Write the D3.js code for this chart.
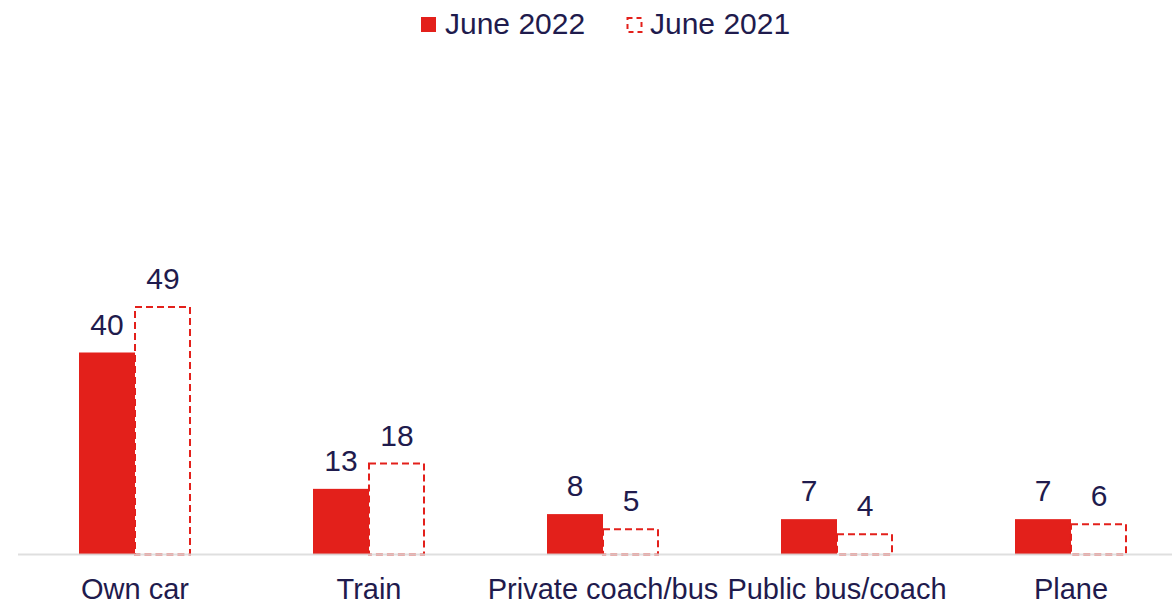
<!DOCTYPE html>
<html>
<head>
<meta charset="utf-8">
<script src="https://cdn.jsdelivr.net/npm/d3@7"></script>
<style>
  html, body { margin: 0; padding: 0; background: #fff; }
  svg { display: block; font-family: "Liberation Sans", Arial, sans-serif; }
</style>
</head>
<body>
<svg id="chart" width="1172" height="603"></svg>
<script>
// Mode of transport used, share of respondents (%)
const categories = ["Own car", "Train", "Private coach/bus", "Public bus/coach", "Plane"];
const seriesNames = ["June 2022", "June 2021"];
const june2022 = [40, 13, 8, 7, 7];
const june2021 = [49, 18, 5, 4, 6];

const W = 1172, H = 603;
const baseY = 554.5;
const red = "#e3201b";
const ink = "#1f1b4d";
const fontSize = 29;
const valueFontSize = 30;

const svg = d3.select("#chart");

const pad = 0.5214;
const x = d3.scaleBand()
  .domain(categories)
  .range([18, 1188])
  .paddingInner(pad)
  .paddingOuter(pad / 2);

const xSub = d3.scaleBand()
  .domain(seriesNames)
  .range([0, x.bandwidth()]);

const y = d3.scaleLinear()
  .domain([0, 60])
  .range([baseY, baseY - 303]);

const groups = svg.append("g")
  .selectAll("g")
  .data(categories)
  .join("g")
  .attr("transform", d => `translate(${x(d)},0)`);

// Solid bars: June 2022
groups.append("rect")
  .attr("x", xSub("June 2022"))
  .attr("width", xSub.bandwidth())
  .attr("y", (d, i) => y(june2022[i]))
  .attr("height", (d, i) => baseY - y(june2022[i]))
  .attr("fill", red);

// Dashed outline bars: June 2021
groups.append("rect")
  .attr("x", xSub("June 2021"))
  .attr("width", xSub.bandwidth() - 1)
  .attr("y", (d, i) => y(june2021[i]))
  .attr("height", (d, i) => baseY - y(june2021[i]))
  .attr("fill", "none")
  .attr("stroke", red)
  .attr("stroke-width", 2)
  .attr("stroke-dasharray", "7,4");

// Baseline
svg.append("line")
  .attr("x1", 18).attr("x2", W)
  .attr("y1", baseY).attr("y2", baseY)
  .attr("stroke", "#d9d9d9")
  .attr("stroke-opacity", 0.85)
  .attr("stroke-width", 2);

// Value labels
groups.append("text")
  .attr("x", xSub("June 2022") + xSub.bandwidth() / 2)
  .attr("y", (d, i) => y(june2022[i]) - 18)
  .attr("text-anchor", "middle")
  .attr("font-size", valueFontSize)
  .attr("fill", ink)
  .text((d, i) => june2022[i]);

groups.append("text")
  .attr("x", xSub("June 2021") + xSub.bandwidth() / 2)
  .attr("y", (d, i) => y(june2021[i]) - 18)
  .attr("text-anchor", "middle")
  .attr("font-size", valueFontSize)
  .attr("fill", ink)
  .text((d, i) => june2021[i]);

// Category axis
const xAxis = svg.append("g")
  .attr("transform", `translate(0,${baseY})`)
  .call(d3.axisBottom(x).tickSize(0).tickPadding(0));
xAxis.select(".domain").remove();
xAxis.selectAll("text")
  .attr("y", 44)
  .attr("dy", null)
  .attr("font-size", fontSize)
  .attr("font-family", "Liberation Sans, Arial, sans-serif")
  .attr("fill", ink);

// Legend
const legend = svg.append("g");
const items = [
  { name: seriesNames[0], x: 421, textX: 445, dashed: false },
  { name: seriesNames[1], x: 627, textX: 650, dashed: true }
];
items.forEach(it => {
  if (it.dashed) {
    legend.append("rect")
      .attr("x", it.x + 0.5).attr("y", 18)
      .attr("width", 14).attr("height", 14)
      .attr("fill", "none")
      .attr("stroke", red)
      .attr("stroke-width", 2)
      .attr("stroke-dasharray", "5,4");
  } else {
    legend.append("rect")
      .attr("x", it.x).attr("y", 17)
      .attr("width", 15).attr("height", 15)
      .attr("fill", red);
  }
  legend.append("text")
    .attr("x", it.textX).attr("y", 34)
    .attr("font-size", valueFontSize)
    .attr("fill", ink)
    .text(it.name);
});
</script>
</body>
</html>
